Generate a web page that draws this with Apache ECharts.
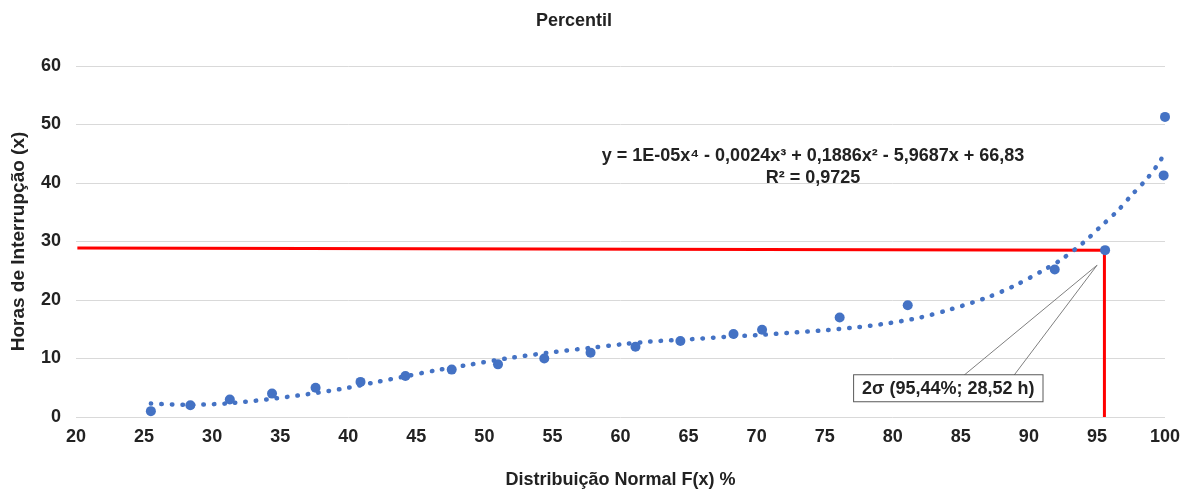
<!DOCTYPE html>
<html lang="pt">
<head>
<meta charset="UTF-8">
<title>Percentil</title>
<script src="https://cdn.jsdelivr.net/npm/echarts@6/dist/echarts.min.js"></script>
<style>html,body{margin:0;padding:0;background:#fff;}</style>
</head>
<body>
<div id="main" style="width:1184px;height:494px;"></div>
<script>
// pontos observados: F(x) % e horas
var percentil = [25.5, 28.4, 31.3, 34.4, 37.6, 40.9, 44.2, 47.6, 51.0, 54.4, 57.8, 61.1, 64.4, 68.3, 70.4, 76.1, 81.1, 91.9, 95.6, 99.9, 100];
var horas = [1, 2, 3, 4, 5, 6, 7, 8.1, 9, 10, 11, 12, 13, 14.2, 14.9, 17, 19.1, 25.2, 28.52, 41.3, 51.3];

// linha de tendencia
var trendX = [25.5, 28, 31, 34, 37, 40, 42, 44.3, 46.5, 48.8, 51.9, 55.1, 58.1, 60, 62.2, 65.2, 67.7, 70.1, 72.5, 74.9, 77.2, 79.6, 82, 84.1, 86.9, 89, 91, 92.3, 94, 95.2, 96.5, 97.5, 98.7, 99.6, 100];
var trendY = [2.3, 2.1, 2.3, 3.0, 3.9, 5.0, 5.95, 7.0, 8.0, 8.9, 10.1, 11.1, 11.9, 12.4, 12.9, 13.3, 13.7, 14.0, 14.4, 14.8, 15.3, 16.0, 17.0, 18.3, 20.4, 22.5, 25.0, 26.8, 29.8, 32.4, 35.2, 37.8, 40.8, 43.6, 45.3];

// linhas vermelhas do 2 sigma
var limiteX = [20.1, 95.55, 95.55];
var limiteY = [28.9, 28.52, 0];

var xMin = 20, xMax = 100, xStep = 5;
var yMin = 0, yMax = 60, yStep = 10;

var equacao = 'y = 1E-05x\u2074 - 0,0024x\u00b3 + 0,1886x\u00b2 - 5,9687x + 66,83';
var rQuadrado = 'R\u00b2 = 0,9725';
var rotulo = '2\u03c3 (95,44%; 28,52 h)';

function pares(xs, ys) {
    var out = [];
    for (var i = 0; i < xs.length; i++) out.push([xs[i], ys[i]]);
    return out;
}

var fonte = '"Liberation Sans", Arial, sans-serif';
var azul = '#4472C4';
var texto = '#222';

var chart = echarts.init(document.getElementById('main'));

var option = {
    animation: false,
    textStyle: { fontFamily: fonte },
    title: {
        text: 'Percentil',
        left: 536, top: 12, padding: 0,
        textStyle: { fontSize: 18, fontWeight: 'bold', color: texto, fontFamily: fonte }
    },
    grid: { left: 76, right: 19, top: 66, bottom: 72 },
    xAxis: {
        type: 'value', min: xMin, max: xMax, interval: xStep,
        name: 'Distribuição Normal F(x) %',
        nameLocation: 'middle', nameGap: 54,
        nameTextStyle: { fontSize: 18, fontWeight: 'bold', color: texto },
        axisLine: { show: false },
        axisTick: { show: false },
        splitLine: { show: false },
        axisLabel: { fontSize: 18, fontWeight: 'bold', color: texto, margin: 11 }
    },
    yAxis: {
        type: 'value', min: yMin, max: yMax, interval: yStep,
        name: 'Horas de Interrupção (x)',
        nameLocation: 'middle', nameGap: 48,
        nameTextStyle: { fontSize: 19, fontWeight: 'bold', color: texto },
        axisLine: { show: false },
        axisTick: { show: false },
        splitLine: { lineStyle: { color: '#d9d9d9', width: 1 } },
        axisLabel: { fontSize: 18, fontWeight: 'bold', color: texto, margin: 15 }
    },
    series: [
        {
            type: 'line', name: 'limite',
            data: pares(limiteX, limiteY),
            showSymbol: false, symbol: 'none',
            lineStyle: { color: '#ff0000', width: 3 },
            z: 1
        },
        {
            type: 'line', name: 'tendencia',
            data: pares(trendX, trendY),
            smooth: 0.3, showSymbol: false, symbol: 'none',
            lineStyle: { color: azul, width: 4.5, type: [0.5, 10], cap: 'round' },
            z: 3
        },
        {
            type: 'scatter', name: 'horas',
            data: pares(percentil, horas),
            symbolSize: 10,
            itemStyle: { color: azul, opacity: 1 },
            z: 4
        }
    ]
};
chart.setOption(option);

// equacao e callout do ponto 2 sigma
var p = chart.convertToPixel({ seriesIndex: 2 }, [percentil[18], horas[18]]);
var tip = [p[0] - 8, p[1] + 15];
var boxL = tip[0] - 243, boxT = tip[1] + 110;
chart.setOption({
    graphic: [
        {
            type: 'text', x: 813, y: 145,
            style: { text: equacao + '\n' + rQuadrado, align: 'center', verticalAlign: 'top', font: 'bold 18px ' + fonte, fill: texto, lineHeight: 22 }
        },
        {
            type: 'polyline', z: 10,
            shape: { points: [[tip[0] - 133, boxT], tip, [tip[0] - 83, boxT]] },
            style: { stroke: '#7f7f7f', lineWidth: 1, fill: null }
        },
        {
            type: 'text', z: 11, x: boxL, y: boxT,
            style: {
                text: rotulo, font: 'bold 18px ' + fonte, fill: texto,
                backgroundColor: '#fff', borderColor: '#595959', borderWidth: 1,
                padding: [5, 8, 3, 8]
            }
        }
    ]
});
</script>
</body>
</html>
